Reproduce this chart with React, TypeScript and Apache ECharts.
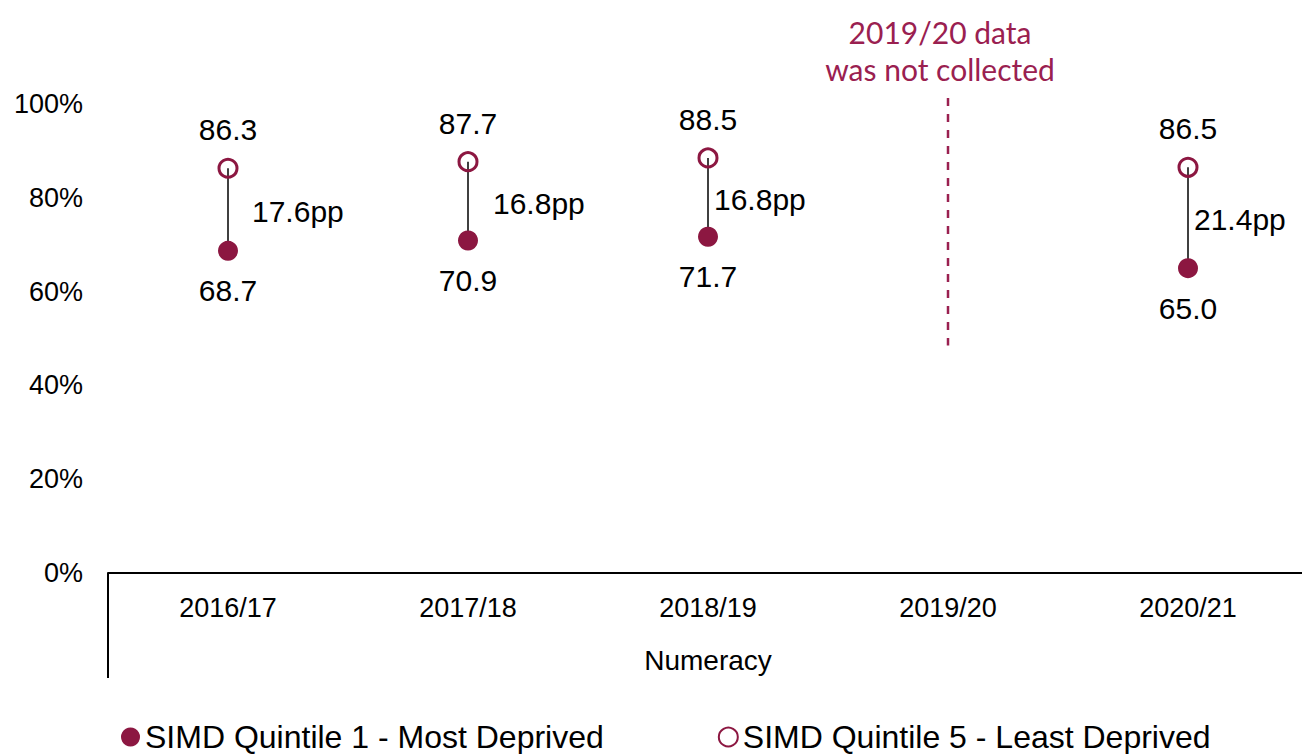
import React, { useEffect, useRef } from "react";
import * as echarts from "echarts";

const categories = ["2016/17", "2017/18", "2018/19", "2019/20", "2020/21"];
const q1Values: (number | null)[] = [68.7, 70.9, 71.7, null, 65.0];
const q5Values: (number | null)[] = [86.3, 87.7, 88.5, null, 86.5];
const gapValues: (number | null)[] = [17.6, 16.8, 16.8, null, 21.4];
const yTicks = [0, 20, 40, 60, 80, 100];
const missingCategory = "2019/20";
const missingLineRange = [101.3, 48.5];
const missingNote = "2019/20 data\nwas not collected";
const seriesNames = ["SIMD Quintile 1 - Most Deprived", "SIMD Quintile 5 - Least Deprived"];
const axisTitle = "Numeracy";

// style only: horizontal offset of the gap label per category
const gapLabelDx = [24, 25, 6, 0, 6];

const MAROON = "#8C1741";
const NOTE = "#9A2050";
const FONT = "Liberation Sans, Arial, sans-serif";

export default function App() {
  const ref = useRef<HTMLDivElement>(null);
  useEffect(() => {
    if (!ref.current) return;
    const chart = echarts.init(ref.current, undefined, { renderer: "svg" });
    const gapData = categories
      .map((_, i) => [i, q1Values[i], q5Values[i], gapValues[i]])
      .filter((d) => d[1] != null);
    chart.setOption({
      animation: false,
      textStyle: { fontFamily: FONT },
      grid: { left: 108, top: 104, width: 1200, height: 469, outerBoundsMode: "none", containLabel: false },
      legend: {
        left: 121,
        top: 721,
        padding: 0,
        itemGap: 114,
        itemWidth: 19,
        itemHeight: 19,
        textStyle: { fontSize: 32, color: "#000", fontFamily: FONT },
        data: seriesNames,
      },
      xAxis: {
        type: "category",
        data: categories,
        boundaryGap: true,
        axisLine: { lineStyle: { color: "#000", width: 2 } },
        axisTick: { show: false },
        axisLabel: { fontSize: 27, color: "#000", margin: 21 },
        name: axisTitle,
        nameLocation: "middle",
        nameGap: 73,
        nameTextStyle: { fontSize: 28, color: "#000" },
      },
      yAxis: {
        type: "value",
        min: yTicks[0],
        max: yTicks[yTicks.length - 1],
        interval: 20,
        axisLine: { show: false },
        axisTick: { show: false },
        splitLine: { show: false },
        axisLabel: { fontSize: 27, color: "#000", margin: 25, formatter: "{value}%" },
      },
      graphic: [
        {
          type: "line",
          shape: { x1: 108, y1: 573, x2: 108, y2: 678 },
          style: { stroke: "#000", lineWidth: 2 },
        },
        {
          type: "text",
          x: 940,
          y: 50,
          style: {
            text: missingNote,
            fill: NOTE,
            font: "30px Lato, sans-serif",
            align: "center",
            verticalAlign: "middle",
            lineHeight: 37,
          },
        },
      ],
      series: [
        {
          type: "line",
          name: "missing",
          z: 0,
          silent: true,
          symbol: "none",
          clip: false,
          data: missingLineRange.map((v) => [missingCategory, v]),
          lineStyle: { color: NOTE, type: [8, 8], width: 2.5 },
        },
        {
          type: "custom",
          name: "gap",
          z: 1,
          data: gapData,
          encode: { x: 0, y: [1, 2] },
          renderItem: (params: any, api: any) => {
            const i = api.value(0);
            const lo = api.value(1);
            const hi = api.value(2);
            const gap = api.value(3);
            const p1 = api.coord([i, hi]);
            const p2 = api.coord([i, lo]);
            return {
              type: "group",
              children: [
                {
                  type: "line",
                  shape: { x1: p1[0], y1: p1[1], x2: p2[0], y2: p2[1] },
                  style: { stroke: "#404040", lineWidth: 2 },
                },
                {
                  type: "text",
                  x: p1[0] + gapLabelDx[i],
                  y: (p1[1] + p2[1]) / 2 + 2,
                  style: {
                    text: Number(gap).toFixed(1) + "pp",
                    fill: "#000",
                    font: `30px ${FONT}`,
                    align: "left",
                    verticalAlign: "middle",
                  },
                },
              ],
            };
          },
        },
        {
          type: "scatter",
          name: seriesNames[0],
          z: 3,
          symbol: "circle",
          symbolSize: 20,
          data: q1Values.map((v) => (v == null ? "-" : v)),
          itemStyle: { color: MAROON, opacity: 1 },
          label: {
            show: true,
            position: "bottom",
            distance: 15,
            fontSize: 30,
            color: "#000",
            formatter: (p: any) => Number(p.value).toFixed(1),
          },
        },
        {
          type: "scatter",
          name: seriesNames[1],
          z: 3,
          symbol: "circle",
          symbolSize: 18,
          data: q5Values.map((v) => (v == null ? "-" : v)),
          itemStyle: { color: "rgba(255,255,255,0)", borderColor: MAROON, borderWidth: 3, opacity: 1 },
          label: {
            show: true,
            position: "top",
            distance: 13,
            fontSize: 30,
            color: "#000",
            formatter: (p: any) => Number(p.value).toFixed(1),
          },
        },
      ],
    });
    return () => chart.dispose();
  }, []);
  return (
    <div
      ref={ref}
      style={{ position: "absolute", left: 0, top: 0, width: 1302, height: 754 }}
    />
  );
}
